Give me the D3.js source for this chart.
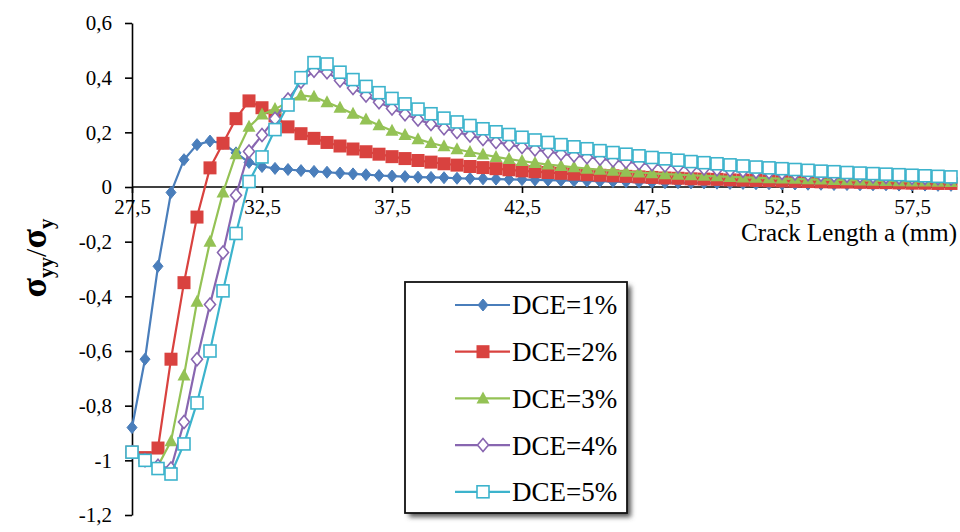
<!DOCTYPE html>
<html>
<head>
<meta charset="utf-8">
<script src="https://cdn.jsdelivr.net/npm/d3@7"></script>
<style>
  html, body { margin: 0; padding: 0; background: #fff; }
  svg { display: block; }
  svg text { font-family: "Liberation Serif", "DejaVu Serif", "Times New Roman", serif; fill: #000; }
</style>
</head>
<body>
<svg id="chart" width="960" height="532"></svg>
<script>
// Crack length positions (mm), sampled every 0.5 mm
const crackLength = [
  27.5, 28.0, 28.5, 29.0, 29.5, 30.0, 30.5, 31.0, 31.5, 32.0,
  32.5, 33.0, 33.5, 34.0, 34.5, 35.0, 35.5, 36.0, 36.5, 37.0,
  37.5, 38.0, 38.5, 39.0, 39.5, 40.0, 40.5, 41.0, 41.5, 42.0,
  42.5, 43.0, 43.5, 44.0, 44.5, 45.0, 45.5, 46.0, 46.5, 47.0,
  47.5, 48.0, 48.5, 49.0, 49.5, 50.0, 50.5, 51.0, 51.5, 52.0,
  52.5, 53.0, 53.5, 54.0, 54.5, 55.0, 55.5, 56.0, 56.5, 57.0,
  57.5, 58.0, 58.5, 59.0
];

// Normalised stress sigma_yy / sigma_y for each DCE level
const dce1 = [
  -0.88, -0.63, -0.29, -0.02, 0.10, 0.155, 0.168, 0.16, 0.125, 0.09,
  0.075, 0.068, 0.064, 0.060, 0.057, 0.054, 0.051, 0.048, 0.045, 0.042,
  0.040, 0.038, 0.036, 0.035, 0.034, 0.032, 0.031, 0.030, 0.029, 0.028,
  0.027, 0.026, 0.025, 0.024, 0.023, 0.022, 0.021, 0.020, 0.019, 0.018,
  0.017, 0.016, 0.016, 0.015, 0.015, 0.014, 0.013, 0.013, 0.012, 0.012,
  0.011, 0.011, 0.010, 0.010, 0.009, 0.009, 0.008, 0.008, 0.008, 0.007,
  0.007, 0.007, 0.006, 0.006
];
const dce2 = [
  -0.97, -0.99, -0.955, -0.63, -0.35, -0.11, 0.07, 0.16, 0.25, 0.315,
  0.29, 0.26, 0.22, 0.195, 0.178, 0.163, 0.15, 0.139, 0.129, 0.12,
  0.111, 0.104, 0.097, 0.091, 0.085, 0.080, 0.075, 0.071, 0.067, 0.063,
  0.059, 0.056, 0.053, 0.050, 0.047, 0.045, 0.043, 0.041, 0.039, 0.037,
  0.035, 0.033, 0.032, 0.030, 0.029, 0.028, 0.026, 0.025, 0.024, 0.023,
  0.022, 0.021, 0.020, 0.019, 0.018, 0.018, 0.017, 0.016, 0.016, 0.015,
  0.014, 0.014, 0.013, 0.013
];
const dce3 = [
  -0.97, -1.0, -1.02, -0.93, -0.69, -0.42, -0.2, -0.02, 0.12, 0.22,
  0.265, 0.285, 0.31, 0.335, 0.33, 0.31, 0.29, 0.268, 0.247, 0.226,
  0.206, 0.19, 0.175, 0.161, 0.149, 0.138, 0.128, 0.119, 0.11, 0.102,
  0.095, 0.088, 0.082, 0.077, 0.072, 0.067, 0.063, 0.059, 0.056, 0.053,
  0.050, 0.047, 0.045, 0.043, 0.041, 0.039, 0.037, 0.035, 0.034, 0.032,
  0.031, 0.030, 0.028, 0.027, 0.026, 0.025, 0.024, 0.023, 0.022, 0.021,
  0.020, 0.020, 0.019, 0.018
];
const dce4 = [
  -0.97, -1.0, -1.02, -1.03, -0.86, -0.63, -0.43, -0.24, -0.03, 0.13,
  0.19, 0.25, 0.32, 0.385, 0.425, 0.42, 0.39, 0.362, 0.335, 0.31,
  0.287, 0.266, 0.247, 0.23, 0.215, 0.201, 0.188, 0.176, 0.165, 0.155,
  0.146, 0.137, 0.129, 0.122, 0.115, 0.109, 0.103, 0.097, 0.092, 0.087,
  0.083, 0.079, 0.075, 0.071, 0.068, 0.065, 0.062, 0.059, 0.056, 0.054,
  0.051, 0.049, 0.047, 0.045, 0.043, 0.041, 0.040, 0.038, 0.037, 0.035,
  0.034, 0.033, 0.032, 0.031
];
const dce5 = [
  -0.97, -1.0, -1.03, -1.05, -0.94, -0.79, -0.6, -0.38, -0.17, 0.02,
  0.11, 0.21, 0.30, 0.40, 0.455, 0.45, 0.42, 0.393, 0.368, 0.345,
  0.324, 0.304, 0.285, 0.268, 0.252, 0.238, 0.225, 0.213, 0.202, 0.192,
  0.182, 0.172, 0.163, 0.155, 0.147, 0.14, 0.133, 0.126, 0.12, 0.114,
  0.108, 0.103, 0.098, 0.093, 0.089, 0.085, 0.081, 0.077, 0.073, 0.070,
  0.067, 0.064, 0.061, 0.058, 0.056, 0.053, 0.051, 0.049, 0.047, 0.045,
  0.043, 0.041, 0.039, 0.037
];

const seriesNames = ["DCE=1%", "DCE=2%", "DCE=3%", "DCE=4%", "DCE=5%"];
const seriesValues = [dce1, dce2, dce3, dce4, dce5];
const seriesColors = ["#4a7ebb", "#d9423f", "#94c255", "#8866b0", "#3cb3cc"];
const seriesMarkers = ["diamond", "square", "triangle", "diamondOpen", "squareOpen"];

const xTicks = [27.5, 32.5, 37.5, 42.5, 47.5, 52.5, 57.5];
const yTicks = [0.6, 0.4, 0.2, 0, -0.2, -0.4, -0.6, -0.8, -1, -1.2];

const serif = '"Liberation Serif", "DejaVu Serif", "Times New Roman", serif';
const svg = d3.select("#chart");
const fmt = v => String(+v.toFixed(1)).replace(".", ",");

const x = d3.scaleLinear().domain([27.5, 57.5]).range([132, 912]);
const y = d3.scaleLinear().domain([-1.2, 0.6]).range([515, 23]);

// Y axis on the left edge of the plot
const yAxis = svg.append("g")
  .attr("transform", `translate(${x(27.5)},0)`)
  .call(d3.axisLeft(y).tickValues(yTicks).tickFormat(fmt).tickSizeInner(7).tickSizeOuter(0).tickPadding(13));
yAxis.attr("font-family", serif);
yAxis.select(".domain").attr("stroke", "#000").attr("stroke-width", 1.6);
yAxis.selectAll(".tick line").attr("stroke", "#000").attr("stroke-width", 1.6);
yAxis.selectAll(".tick text").attr("font-size", 21).style("font-family", serif);

// X axis running along zero
const xAxis = svg.append("g")
  .attr("transform", `translate(0,${y(0)})`)
  .call(d3.axisBottom(x).tickValues(xTicks).tickFormat(fmt).tickSizeInner(6).tickSizeOuter(0).tickPadding(6));
xAxis.attr("font-family", serif);
xAxis.select(".domain").attr("d", `M${x(27.5)},0H${x(59.2)}`).attr("stroke", "#000").attr("stroke-width", 1.6);
xAxis.selectAll(".tick line").attr("stroke", "#000").attr("stroke-width", 1.6);
xAxis.selectAll(".tick text").attr("font-size", 21).style("font-family", serif).attr("dy", "0.72em");

// Axis titles
svg.append("text")
  .attr("x", 957).attr("y", 241)
  .attr("text-anchor", "end")
  .attr("font-size", 25)
  .style("font-family", serif)
  .text("Crack Length a (mm)");

const yTitle = svg.append("text")
  .attr("transform", "translate(46,258) rotate(-90)")
  .attr("text-anchor", "middle")
  .attr("font-weight", "bold")
  .style("font-family", serif);
yTitle.append("tspan").attr("font-size", 36).text("σ");
yTitle.append("tspan").attr("font-size", 21).attr("dy", 7).text("yy");
yTitle.append("tspan").attr("font-size", 30).attr("dy", -7).attr("font-weight", "normal").text("/");
yTitle.append("tspan").attr("font-size", 36).text("σ");
yTitle.append("tspan").attr("font-size", 21).attr("dy", 7).text("y");

// Marker drawing helper
function drawMarker(sel, kind, color) {
  if (kind === "diamond") {
    sel.append("path").attr("d", "M0,-6L5,0L0,6L-5,0Z").attr("fill", color).attr("stroke", color).attr("stroke-width", 1);
  } else if (kind === "square") {
    sel.append("rect").attr("x", -6.5).attr("y", -6.5).attr("width", 13).attr("height", 13).attr("fill", color);
  } else if (kind === "triangle") {
    sel.append("path").attr("d", "M0,-7L6.5,5L-6.5,5Z").attr("fill", color);
  } else if (kind === "diamondOpen") {
    sel.append("path").attr("d", "M0,-6.5L5.5,0L0,6.5L-5.5,0Z").attr("fill", "#fff").attr("stroke", color).attr("stroke-width", 1.6);
  } else if (kind === "squareOpen") {
    sel.append("rect").attr("x", -6).attr("y", -6).attr("width", 12).attr("height", 12).attr("fill", "#fff").attr("stroke", color).attr("stroke-width", 1.6);
  }
}

const line = d3.line().x(d => x(d[0])).y(d => y(d[1]));

// Series lines and markers
seriesValues.forEach((vals, k) => {
  const pts = crackLength.map((c, i) => [c, vals[i]]);
  const g = svg.append("g").attr("class", "series");
  g.append("path").datum(pts)
    .attr("d", line)
    .attr("fill", "none")
    .attr("stroke", seriesColors[k])
    .attr("stroke-width", 2.2);
  g.selectAll("g.pt").data(pts).join("g")
    .attr("class", "pt")
    .attr("transform", d => `translate(${x(d[0])},${y(d[1])})`)
    .each(function () { drawMarker(d3.select(this), seriesMarkers[k], seriesColors[k]); });
});

// Legend with drop shadow
const defs = svg.append("defs");
const f = defs.append("filter").attr("id", "shadow").attr("x", "-10%").attr("y", "-10%").attr("width", "130%").attr("height", "130%");
f.append("feGaussianBlur").attr("stdDeviation", 2.5);

const lg = { x: 405, y: 282, w: 222, h: 231, rowY0: 305, rowStep: 46.7 };
svg.append("rect").attr("x", lg.x + 4).attr("y", lg.y + 4).attr("width", lg.w).attr("height", lg.h)
  .attr("fill", "#555").attr("filter", "url(#shadow)");
svg.append("rect").attr("x", lg.x).attr("y", lg.y).attr("width", lg.w).attr("height", lg.h)
  .attr("fill", "#fff").attr("stroke", "#111").attr("stroke-width", 1.8);

seriesNames.forEach((name, k) => {
  const ry = lg.rowY0 + k * lg.rowStep;
  const row = svg.append("g").attr("transform", `translate(0,${ry})`);
  row.append("line").attr("x1", 455).attr("x2", 510).attr("y1", 0).attr("y2", 0)
    .attr("stroke", seriesColors[k]).attr("stroke-width", 2.2);
  const m = row.append("g").attr("transform", "translate(483,0)");
  drawMarker(m, seriesMarkers[k], seriesColors[k]);
  row.append("text").attr("x", 512).attr("y", 0).attr("dy", "0.35em")
    .attr("font-size", 27).style("font-family", serif).text(name);
});
</script>
</body>
</html>
